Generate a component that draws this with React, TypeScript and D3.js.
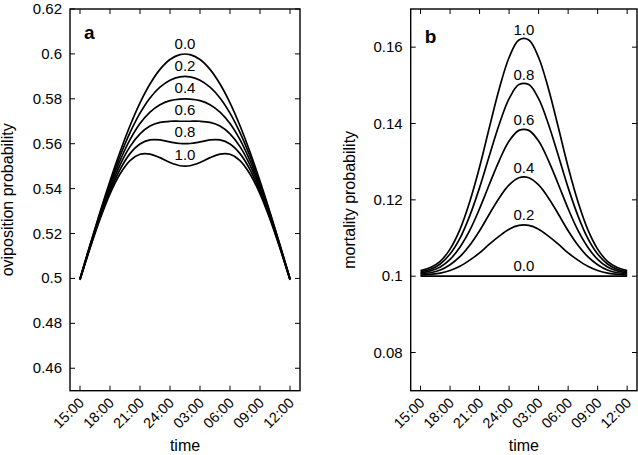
import React from 'react';
import * as d3 from 'd3';

// hours after 15:00, one point per hour
const hours = [0, 1, 2, 3, 4, 5, 6, 7, 8, 9, 10, 11, 12, 13, 14, 15, 16, 17, 18, 19, 20, 21];
const timeTicks = [0, 3, 6, 9, 12, 15, 18, 21];
const timeLabels = ['15:00', '18:00', '21:00', '24:00', '03:00', '06:00', '09:00', '12:00'];

const levelLabels = ['0.0', '0.2', '0.4', '0.6', '0.8', '1.0'];

// panel a: oviposition probability
const ovi00 = [0.5000, 0.5149, 0.5295, 0.5434, 0.5563, 0.5680, 0.5782, 0.5866, 0.5931, 0.5975, 0.5997, 0.5997, 0.5975, 0.5931, 0.5866, 0.5782, 0.5680, 0.5563, 0.5434, 0.5295, 0.5149, 0.5000];
const ovi02 = [0.4999, 0.5146, 0.5289, 0.5422, 0.5544, 0.5649, 0.5736, 0.5804, 0.5852, 0.5883, 0.5898, 0.5898, 0.5883, 0.5852, 0.5804, 0.5736, 0.5649, 0.5544, 0.5422, 0.5289, 0.5146, 0.4999];
const ovi04 = [0.4997, 0.5143, 0.5282, 0.5411, 0.5524, 0.5618, 0.5690, 0.5741, 0.5774, 0.5792, 0.5799, 0.5799, 0.5792, 0.5774, 0.5741, 0.5690, 0.5618, 0.5524, 0.5411, 0.5282, 0.5143, 0.4997];
const ovi06 = [0.4996, 0.5140, 0.5276, 0.5400, 0.5505, 0.5587, 0.5644, 0.5679, 0.5695, 0.5700, 0.5700, 0.5700, 0.5700, 0.5695, 0.5679, 0.5644, 0.5587, 0.5505, 0.5400, 0.5276, 0.5140, 0.4996];
const ovi08 = [0.4994, 0.5137, 0.5270, 0.5388, 0.5485, 0.5556, 0.5599, 0.5617, 0.5617, 0.5608, 0.5601, 0.5601, 0.5608, 0.5617, 0.5617, 0.5599, 0.5556, 0.5485, 0.5388, 0.5270, 0.5137, 0.4994];
const ovi10 = [0.4993, 0.5134, 0.5264, 0.5377, 0.5465, 0.5525, 0.5553, 0.5554, 0.5538, 0.5516, 0.5502, 0.5502, 0.5516, 0.5538, 0.5554, 0.5553, 0.5525, 0.5465, 0.5377, 0.5264, 0.5134, 0.4993];

// panel b: mortality probability
const mort00 = [0.1, 0.1, 0.1, 0.1, 0.1, 0.1, 0.1, 0.1, 0.1, 0.1, 0.1, 0.1, 0.1, 0.1, 0.1, 0.1, 0.1, 0.1, 0.1, 0.1, 0.1, 0.1];
const mort02 = [0.1003, 0.1005, 0.1008, 0.1015, 0.1026, 0.1042, 0.1061, 0.1084, 0.1105, 0.1123, 0.1133, 0.1133, 0.1123, 0.1105, 0.1084, 0.1061, 0.1042, 0.1026, 0.1015, 0.1008, 0.1005, 0.1003];
const mort04 = [0.1006, 0.1009, 0.1016, 0.1030, 0.1051, 0.1081, 0.1119, 0.1163, 0.1205, 0.1239, 0.1258, 0.1258, 0.1239, 0.1205, 0.1163, 0.1119, 0.1081, 0.1051, 0.1030, 0.1016, 0.1009, 0.1006];
const mort06 = [0.1009, 0.1014, 0.1024, 0.1044, 0.1076, 0.1120, 0.1177, 0.1241, 0.1303, 0.1354, 0.1382, 0.1382, 0.1354, 0.1303, 0.1241, 0.1177, 0.1120, 0.1076, 0.1044, 0.1024, 0.1014, 0.1009];
const mort08 = [0.1012, 0.1018, 0.1032, 0.1058, 0.1099, 0.1158, 0.1232, 0.1316, 0.1398, 0.1465, 0.1502, 0.1502, 0.1465, 0.1398, 0.1316, 0.1232, 0.1158, 0.1099, 0.1058, 0.1032, 0.1018, 0.1012];
const mort10 = [0.1015, 0.1023, 0.1039, 0.1071, 0.1122, 0.1195, 0.1286, 0.1390, 0.1491, 0.1573, 0.1619, 0.1619, 0.1573, 0.1491, 0.1390, 0.1286, 0.1195, 0.1122, 0.1071, 0.1039, 0.1023, 0.1015];

const oviTicks = [0.46, 0.48, 0.5, 0.52, 0.54, 0.56, 0.58, 0.6, 0.62];
const oviTickLabels = ['0.46', '0.48', '0.5', '0.52', '0.54', '0.56', '0.58', '0.6', '0.62'];
const mortTicks = [0.08, 0.1, 0.12, 0.14, 0.16];
const mortTickLabels = ['0.08', '0.1', '0.12', '0.14', '0.16'];

const FONT = '"Liberation Sans", Arial, Helvetica, sans-serif';

interface PanelProps {
  x0: number;
  x1: number;
  y0: number;
  y1: number;
  yDomain: [number, number];
  yTicks: number[];
  yTickLabels: string[];
  series: number[][];
  letter: string;
  letterY: number;
  yTitle: string;
  yTitleX: number;
  labelGap: number;
  useMax: boolean;
}

const Panel = (p: PanelProps) => {
  const x = d3.scaleLinear().domain([-1, 22]).range([p.x0, p.x1]);
  const y = d3.scaleLinear().domain(p.yDomain).range([p.y1, p.y0]);
  const line = d3.line<number>()
    .x((d, i) => x(hours[i]))
    .y(d => y(d))
    .curve(d3.curveCatmullRom);
  const tick = 5;
  const midX = x(10.5);

  return (
    <g fontFamily={FONT}>
      {p.series.map((s, i) => (
        <path key={i} d={line(s) || ''} fill="none" stroke="#000" strokeWidth={1.7} />
      ))}
      {p.series.map((s, i) => {
        const v = p.useMax ? d3.max(s)! : s[10];
        return (
          <text key={i} x={midX} y={y(v) - p.labelGap} fontSize={15} textAnchor="middle">
            {levelLabels[i]}
          </text>
        );
      })}
      <rect x={p.x0} y={p.y0} width={p.x1 - p.x0} height={p.y1 - p.y0}
        fill="none" stroke="#000" strokeWidth={1.4} />
      {timeTicks.map((t, i) => (
        <g key={i}>
          <line x1={x(t)} x2={x(t)} y1={p.y1} y2={p.y1 - tick} stroke="#000" strokeWidth={1} />
          <line x1={x(t)} x2={x(t)} y1={p.y0} y2={p.y0 + tick} stroke="#000" strokeWidth={1} />
          <text transform={`translate(${x(t) + 5},${p.y1 + 13}) rotate(-45)`}
            fontSize={14.5} textAnchor="end">{timeLabels[i]}</text>
        </g>
      ))}
      {p.yTicks.map((v, i) => (
        <g key={i}>
          <line x1={p.x0} x2={p.x0 + tick} y1={y(v)} y2={y(v)} stroke="#000" strokeWidth={1} />
          <line x1={p.x1} x2={p.x1 - tick} y1={y(v)} y2={y(v)} stroke="#000" strokeWidth={1} />
          <text x={p.x0 - 8} y={y(v) + 5} fontSize={15} textAnchor="end">{p.yTickLabels[i]}</text>
        </g>
      ))}
      <text x={p.x0 + 14} y={p.letterY} fontSize={19} fontWeight="bold">{p.letter}</text>
      <text x={(p.x0 + p.x1) / 2} y={451} fontSize={16} textAnchor="middle">time</text>
      <text transform={`translate(${p.yTitleX},${(p.y0 + p.y1) / 2}) rotate(-90)`}
        fontSize={16} textAnchor="middle">{p.yTitle}</text>
    </g>
  );
};

export default function App() {
  return (
    <svg width={638} height={455} style={{ position: 'absolute', left: 0, top: 0, background: '#fff' }}>
      <Panel x0={70} x1={300} y0={9} y1={390.7} yDomain={[0.45, 0.62]}
        yTicks={oviTicks} yTickLabels={oviTickLabels}
        series={[ovi00, ovi02, ovi04, ovi06, ovi08, ovi10]}
        letter="a" letterY={39} yTitle="oviposition probability" yTitleX={13}
        labelGap={6} useMax={false} />
      <Panel x0={410.7} x1={637} y0={9} y1={390.7} yDomain={[0.07, 0.17]}
        yTicks={mortTicks} yTickLabels={mortTickLabels}
        series={[mort00, mort02, mort04, mort06, mort08, mort10]}
        letter="b" letterY={43} yTitle="mortality probability" yTitleX={355}
        labelGap={5} useMax={true} />
    </svg>
  );
}
